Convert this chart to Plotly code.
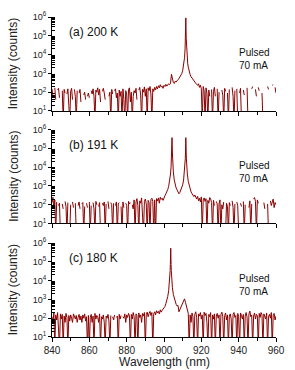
import plotly.graph_objects as go

# Wavelength sampling grid (nm), 0.5 nm step from 840 to 960
wl_grid = [840 + 0.5 * i for i in range(241)]

# ---------- Panel (a) 200 K ----------
int_a = [
    150, 60, None, 170, 40, None, 130, 160, 50, None,
    None, 120, 3, 140, 90, None, 80, 150, 20, 3,
    110, 160, 40, None, 140, 60, 3, 120, None, 90,
    140, 30, None, None, 70, 100, 40, None, 60, 90,
    50, None, 120, 80, 150, 60, 3, 130, 100, 170,
    70, 140, 30, None, 110, 160, 90, 40, None, 130,
    None, 60, 100, 3, 140, 80, None, 120, 150, 50,
    90, 3, 130, 60, 110, 3, 150, 40, 3, 120,
    80, 3, 140, 170, 30, 100, 3, 60, 120, 90,
    160, 40, None, 130, 180, 70, 3, 140, 100, 190,
    60, 150, 3, 170, 120, 200, 80, 3, 150, 110,
    180, 130, 200, 150, 220, 170, 250, 190, 210, 160,
    230, 200, 260, 210, 240, 280, 250, 300, 900, 420,
    330, 290, 380, 350, 430, 470, 520, 620, 780, 970,
    1370, 2500, 6800, 74000, 35000, 5250, 2150, 1250, 860, 660,
    550, 450, 380, 340, 300, 260, 230, 280, 180, 240,
    150, 3, 200, 120, 3, 170, 90, 3, 130, 60,
    None, 140, 3, 110, 180, 60, None, 150, 3, 100,
    None, None, 130, 70, 3, 160, 110, None, 90, 3,
    140, None, None, 180, 60, 3, 120, None, 150, 3,
    None, 90, 160, 3, None, 130, 70, None, None, 170,
    3, None, 110, None, 150, 200, None, None, 140, 60,
    None, 180, 120, None, None, 90, 3, None, 160, None,
    None, 200, 140, None, 3, None, 230, 250, None, 180,
    90,
]
peak_wl_a = [911.3, 911.6, 911.7, 911.8, 911.9, 912.1, 912.4, 912.7]
peak_int_a = [20000, 240000, 900000, 240000, 74000, 20000, 6800, 3450]

# ---------- Panel (b) 191 K ----------
int_b = [
    130, 250, 60, 180, 3, 140, None, 90, 120, 3,
    None, 110, 60, None, 150, 80, 3, 130, None, 3,
    100, None, 140, 70, None, 120, 3, None, 90, 140,
    60, None, 110, 130, 3, 80, None, 120, 70, None,
    140, 3, 90, None, 130, 60, 3, 150, 100, None,
    80, 130, 3, None, 120, 90, 140, 3, 110, None,
    150, 60, None, 130, 100, 3, 120, None, 90, 140,
    3, 110, 130, None, 80, 3, 140, 70, None, 120,
    90, 3, 150, 110, 130, None, 100, 60, 180, 3,
    140, 210, 90, 3, 160, 120, 230, 70, 3, 150,
    200, 110, 3, 170, 130, 3, 190, 220, 150, 3,
    180, 3, 210, 160, 230, 120, 250, 190, 220, 170,
    260, 300, 380, 470, 640, 950, 1720, 4300, 27500, 56600,
    5570, 2050, 1135, 780, 617, 480, 380, 450, 617, 780,
    1135, 2050, 5570, 56600, 27500, 4280, 1720, 970, 640, 480,
    390, 310, 270, 330, 240, 200, 280, 160, 220, 140,
    260, 3, 180, 230, 150, 210, 3, 170, 120, 240,
    200, 130, 3, 170, 90, None, 150, 110, 3, 120,
    180, 3, 100, 60, 140, None, 3, 120, 80, 3,
    130, 90, None, 160, 70, 3, 110, None, 140, 90,
    3, None, 120, 80, None, 150, 3, 100, None, 130,
    None, 70, 160, 3, 110, None, 200, 240, 150, 3,
    180, 120, None, 90, None, 150, None, 130, 60, None,
    None, 110, 3, None, 160, 90, 140, 200, 70, 130,
    100,
]
peak_wl_b = [903.8, 904.1, 904.2, 904.3, 904.4, 904.6, 904.8,
             911.2, 911.4, 911.6, 911.7, 911.8, 911.9, 912.2]
peak_int_b = [10400, 56600, 155000, 370000, 155000, 27500, 10400,
              10400, 27500, 155000, 370000, 155000, 56600, 10400]

# ---------- Panel (c) 180 K ----------
int_c = [
    120, 60, 190, 3, 150, 80, 200, 40, 3, 170,
    90, 160, 3, 130, 60, 180, 110, 3, 140, 70,
    150, 100, 60, 170, 120, 90, 140, 60, 110, 160,
    80, 130, 60, 150, 100, 170, 70, 120, 3, 140,
    3, 110, 160, 60, 130, 3, 180, 90, 140, 110,
    60, 170, 3, 120, 90, 150, 60, 3, 130, 100,
    160, 70, 3, 140, None, 120, 80, 150, None, 110,
    130, 3, 160, 90, 140, None, 120, 100, 170, 60,
    150, 110, 180, 130, 3, 160, 90, 200, 120, 3,
    170, 140, 3, 190, 110, 150, 60, 180, 130, 200,
    3, 160, 210, 120, 180, 230, 140, 200, 3, 170,
    220, 150, 250, 190, 230, 170, 280, 210, 260, 300,
    330, 420, 600, 870, 1420, 2890, 9400, 207000, 20400, 4250,
    1830, 1060, 720, 550, 450, 480, 220, 290, 370, 500,
    650, 900, 1070, 700, 420, 280, 180, 3, 150, 60,
    190, 120, 3, 160, 220, 110, 3, 170, 130, 200,
    90, 150, 3, 210, 140, 180, 60, 3, 160, 120,
    200, 3, 150, 90, 170, 3, 130, 180, 100, 150,
    3, 160, 210, 120, 3, 140, 190, 80, 150, 3,
    130, 170, 90, 3, 160, 200, 110, 140, 3, 180,
    120, 3, 190, 140, 90, 160, 3, 130, 200, 110,
    3, 170, 240, 120, 150, 3, 130, 190, 90, 160,
    140, 3, 180, 110, 200, 150, 3, 170, 130, 90,
    190, 3, 120, 160, 100, 200, 3, 150, 180, 80,
    130,
]
peak_wl_c = [903.2, 903.3, 903.4, 903.6, 903.7, 903.8, 903.9, 904.2]
peak_int_c = [20400, 35200, 73000, 530000, 207000, 73000, 35200, 9260]

panel_labels = ["(a) 200 K", "(b) 191 K", "(c) 180 K"]
condition_text = "Pulsed<br>70 mA"
y_tickvals = [10, 100, 1000, 10000, 100000, 1000000]
y_ticktext = ["10<sup>1</sup>", "10<sup>2</sup>", "10<sup>3</sup>",
              "10<sup>4</sup>", "10<sup>5</sup>", "10<sup>6</sup>"]
y_minor = [m * 10 ** e for e in range(1, 6) for m in range(2, 10)]


def merged(grid_wl, grid_int, extra_wl, extra_int):
    pts = list(zip(grid_wl, grid_int)) + list(zip(extra_wl, extra_int))
    pts.sort(key=lambda p: p[0])
    return [p[0] for p in pts], [p[1] for p in pts]


LINE = "#8b0000"
FONT = "Arial, Liberation Sans, sans-serif"
fig = go.Figure()
series = [
    (int_a, peak_wl_a, peak_int_a, "x3", "y3"),
    (int_b, peak_wl_b, peak_int_b, "x2", "y2"),
    (int_c, peak_wl_c, peak_int_c, "x", "y"),
]
for ints, pwl, pint, xa, ya in series:
    xs, ys = merged(wl_grid, ints, pwl, pint)
    fig.add_trace(go.Scatter(x=xs, y=ys, mode="lines", xaxis=xa, yaxis=ya,
                             line=dict(color=LINE, width=1),
                             connectgaps=False, showlegend=False,
                             hoverinfo="skip"))

font_tick = dict(family=FONT, size=10, color="#222")
xcommon = dict(range=[840, 960], showline=True, linecolor="black", linewidth=1,
               ticks="outside", ticklen=4, tickcolor="black", tick0=840, dtick=20,
               minor=dict(ticks="outside", ticklen=3, dtick=10, tickcolor="black"),
               showgrid=False, zeroline=False, tickfont=font_tick)
ycommon = dict(type="log", range=[1, 6], showline=True, linecolor="black",
               linewidth=1, ticks="outside", ticklen=3, tickcolor="black",
               tickmode="array", tickvals=y_tickvals, ticktext=y_ticktext,
               minor=dict(ticks="inside", ticklen=3, tickmode="array",
                          tickvals=y_minor, tickcolor="black"),
               showgrid=False, zeroline=False,
               tickfont=dict(family=FONT, size=9, color="#222"))

doms = {"y": [0.0, 0.2936], "y2": [0.3547, 0.6483], "y3": [0.7064, 1.0]}
fig.update_layout(
    width=295, height=370,
    margin=dict(l=52, r=12, t=10, b=33),
    paper_bgcolor="white", plot_bgcolor="white",
    xaxis=dict(xcommon, anchor="y", showticklabels=True),
    xaxis2=dict(xcommon, anchor="y2", matches="x", showticklabels=False),
    xaxis3=dict(xcommon, anchor="y3", matches="x", showticklabels=False),
    yaxis=dict(ycommon, domain=doms["y"], anchor="x"),
    yaxis2=dict(ycommon, domain=doms["y2"], anchor="x2"),
    yaxis3=dict(ycommon, domain=doms["y3"], anchor="x3"),
)

afont = dict(family=FONT, size=12, color="#111")
annots = []
for lbl, xa, ya, dom in zip(panel_labels, ["x3", "x2", "x"], ["y3", "y2", "y"],
                            [doms["y3"], doms["y2"], doms["y"]]):
    annots.append(dict(text=lbl, x=847.8, y=5.2, xref=xa, yref=ya,
                       xanchor="left", yanchor="middle", showarrow=False, font=afont))
    annots.append(dict(text=condition_text, x=939.3, y=3.75, xref=xa, yref=ya,
                       xanchor="left", yanchor="middle", align="left", showarrow=False,
                       font=dict(family=FONT, size=10, color="#111")))
    annots.append(dict(text="Intensity (counts)", x=-0.173, y=(dom[0] + dom[1]) / 2,
                       xref="paper", yref="paper", textangle=-90,
                       xanchor="center", yanchor="middle", showarrow=False,
                       font=dict(family=FONT, size=12, color="#222")))
annots.append(dict(text="Wavelength (nm)", x=0.5, y=0, xref="paper", yref="paper",
                   yanchor="top", yshift=-16, showarrow=False,
                   font=dict(family=FONT, size=12, color="#222")))
fig.update_layout(annotations=annots)

fig.write_html("out.html")
